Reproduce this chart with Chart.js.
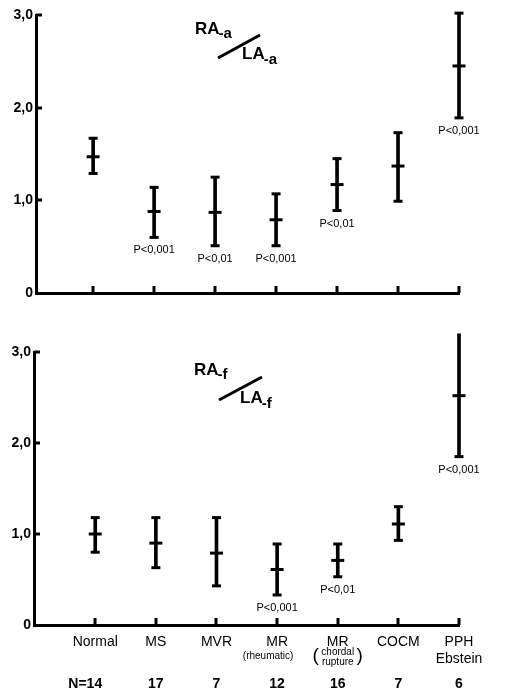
<!DOCTYPE html>
<html><head><meta charset="utf-8">
<script src="https://cdn.jsdelivr.net/npm/chart.js@4.4.1/dist/chart.umd.min.js"></script>
<style>
html,body{margin:0;padding:0;background:#fff;}
#wrap{position:relative;width:507px;height:690px;overflow:hidden;}
#c1{position:absolute;left:0;top:0;}
#c2{position:absolute;left:0;top:320px;}
</style></head><body>
<div id="wrap">
<canvas id="c1" width="507" height="310"></canvas>
<canvas id="c2" width="507" height="370"></canvas>
</div>
<script>
// ---- data ----
const categories = ['Normal', 'MS', 'MVR', 'MR', 'MR', 'COCM', 'PPH'];
const categorySecondLine = ['', '', '', '', '', '', 'Ebstein'];
const categoryNotes = ['', '', '', '(rheumatic)', 'chordal|rupture', '', ''];
const groupSizes = ['N=14', '17', '7', '12', '16', '7', '6'];
const yTickValues = [0, 1, 2, 3];

// RA-a / LA-a
const aMean = [1.47, 0.88, 0.87, 0.79, 1.17, 1.37, 2.45];
const aLow  = [1.29, 0.60, 0.51, 0.51, 0.89, 0.99, 1.89];
const aHigh = [1.67, 1.14, 1.25, 1.07, 1.45, 1.73, 3.02];
const aP    = ['', 'P<0,001', 'P<0,01', 'P<0,001', 'P<0,01', '', 'P<0,001'];

// RA-f / LA-f
const fMean = [1.00, 0.90, 0.79, 0.61, 0.71, 1.11, 2.52];
const fLow  = [0.80, 0.63, 0.43, 0.33, 0.53, 0.93, 1.85];
const fHigh = [1.18, 1.18, 1.18, 0.89, 0.89, 1.30, 3.20];
const fP    = ['', '', '', 'P<0,001', 'P<0,01', '', 'P<0,001'];

// ---- drawing ----
const FONT = "'Liberation Sans', Arial, sans-serif";
const xs = categories.map((_, i) => i + 1);

function fmtY(v) { return v === 0 ? '0' : v.toFixed(1).replace('.', ','); }

function drawRatioTitle(ctx, t) {
  ctx.save();
  ctx.fillStyle = '#000';
  ctx.strokeStyle = '#000';
  ctx.textBaseline = 'alphabetic';
  ctx.textAlign = 'left';
  ctx.font = 'bold 17px ' + FONT;
  ctx.fillText('RA', t.rx, t.ry);
  let w = ctx.measureText('RA').width;
  ctx.font = 'bold 15px ' + FONT;
  ctx.fillText('-' + t.sub, t.rx + w - 1, t.ry + 4);
  ctx.font = 'bold 17px ' + FONT;
  ctx.fillText('LA', t.lx, t.ly);
  w = ctx.measureText('LA').width;
  ctx.font = 'bold 15px ' + FONT;
  ctx.fillText('-' + t.sub, t.lx + w - 1, t.ly + 5);
  ctx.lineWidth = 3;
  ctx.beginPath();
  ctx.moveTo(t.s[0], t.s[1]);
  ctx.lineTo(t.s[2], t.s[3]);
  ctx.stroke();
  ctx.restore();
}

function makeChart(canvas, mean, low, high, pLabels, cfg) {
  const decor = {
    id: 'decor',
    afterDatasetsDraw(chart) {
      const ctx = chart.ctx;
      const xS = chart.scales.x, yS = chart.scales.y;
      const area = chart.chartArea;
      ctx.save();
      ctx.strokeStyle = '#000';
      ctx.fillStyle = '#000';
      ctx.lineWidth = 3;
      // inward tick marks
      yTickValues.forEach(v => {
        if (v === 0) return;
        const py = Math.round(yS.getPixelForValue(v));
        ctx.beginPath();
        ctx.moveTo(area.left, py);
        ctx.lineTo(area.left + 6, py);
        ctx.stroke();
      });
      xs.forEach(v => {
        const px = Math.round(xS.getPixelForValue(v));
        ctx.beginPath();
        ctx.moveTo(px, area.bottom);
        ctx.lineTo(px, area.bottom - 7);
        ctx.stroke();
      });
      // significance labels
      ctx.font = '11px ' + FONT;
      ctx.textAlign = 'center';
      ctx.textBaseline = 'middle';
      pLabels.forEach((p, i) => {
        if (!p) return;
        ctx.fillText(p, xS.getPixelForValue(xs[i]), yS.getPixelForValue(low[i]) + 13);
      });
      // category notes and group sizes
      if (cfg.showLabels) {
        categoryNotes.forEach((n, i) => {
          if (!n) return;
          const px = xS.getPixelForValue(xs[i]);
          const base = area.bottom;
          if (n.indexOf('|') < 0) {
            ctx.font = '10px ' + FONT;
            ctx.fillText(n, px - 9, base + 31);
          } else {
            const parts = n.split('|');
            ctx.font = '10px ' + FONT;
            ctx.fillText(parts[0], px, base + 27);
            ctx.fillText(parts[1], px, base + 37);
            ctx.font = '19px ' + FONT;
            ctx.fillText('(', px - 22, base + 31);
            ctx.fillText(')', px + 22, base + 31);
          }
        });
        ctx.font = 'bold 14px ' + FONT;
        groupSizes.forEach((g, i) => {
          const px = xS.getPixelForValue(xs[i]);
          ctx.fillText(g, i === 0 ? px - 10 : px, area.bottom + 59);
        });
      }
      ctx.restore();
      drawRatioTitle(ctx, cfg.title);
    }
  };

  return new Chart(canvas, {
    type: 'bar',
    data: {
      datasets: [
        { type: 'bar', data: xs.map((x, i) => ({ x, y: [low[i], high[i]] })),
          backgroundColor: '#000', borderWidth: 0, barThickness: 3, clip: false },
        { type: 'scatter', data: xs.map((x, i) => ({ x, y: high[i] })),
          pointStyle: 'line', radius: 4.5, borderWidth: 3, borderColor: '#000', clip: false },
        { type: 'scatter', data: xs.map((x, i) => ({ x, y: low[i] })),
          pointStyle: 'line', radius: 4.5, borderWidth: 3, borderColor: '#000', clip: false },
        { type: 'scatter', data: xs.map((x, i) => ({ x, y: mean[i] })),
          pointStyle: 'line', radius: 6.5, borderWidth: 3, borderColor: '#000', clip: false }
      ]
    },
    options: {
      responsive: false,
      animation: false,
      events: [],
      layout: { padding: { top: cfg.top, right: cfg.right, left: 0, bottom: 0 } },
      plugins: { legend: { display: false }, tooltip: { enabled: false } },
      scales: {
        x: {
          type: 'linear', min: cfg.xMin, max: 7, offset: false,
          afterBuildTicks: s => { s.ticks = xs.map(v => ({ value: v })); },
          afterFit: s => { s.height = cfg.xHeight; },
          grid: { display: false, drawTicks: false, offset: false },
          border: { display: true, width: 3, color: '#000' },
          ticks: {
            display: cfg.showLabels, autoSkip: false, maxRotation: 0, padding: 9,
            color: '#000', font: { family: FONT, size: 14 }, lineHeight: 1.0,
            callback: v => {
              const i = Math.round(v) - 1;
              return categorySecondLine[i] ? [categories[i], categorySecondLine[i]] : categories[i];
            }
          }
        },
        y: {
          min: 0, max: 3,
          afterBuildTicks: s => { s.ticks = yTickValues.map(v => ({ value: v })); },
          afterFit: s => { s.width = cfg.yWidth; },
          grid: { display: false, drawTicks: false },
          border: { display: true, width: 3, color: '#000' },
          ticks: { padding: 3, color: '#000', font: { family: FONT, size: 14, weight: 'bold' }, callback: fmtY }
        }
      }
    },
    plugins: [decor]
  });
}

makeChart(document.getElementById('c1'), aMean, aLow, aHigh, aP, {
  top: 15, right: 48, xHeight: 17, yWidth: 36, xMin: 0.063, showLabels: false,
  title: { rx: 195, ry: 34, lx: 242, ly: 59, sub: 'a', s: [218, 58, 260, 35] }
});
makeChart(document.getElementById('c2'), fMean, fLow, fHigh, fP, {
  top: 32, right: 48, xHeight: 65, yWidth: 34, xMin: -0.01, showLabels: true,
  title: { rx: 194, ry: 55, lx: 240, ly: 83, sub: 'f', s: [219, 80, 262, 57] }
});
</script>
</body></html>
